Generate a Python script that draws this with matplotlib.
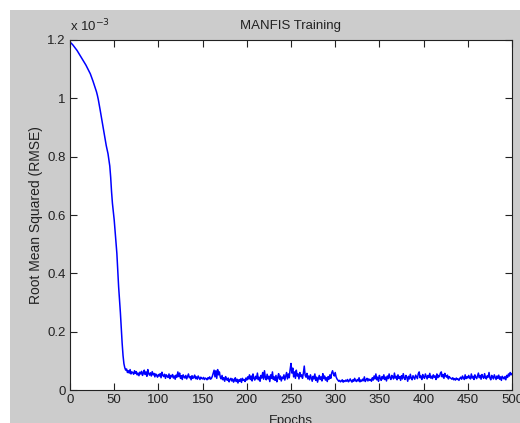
import numpy as np
import matplotlib
matplotlib.use("Agg")
import matplotlib.pyplot as plt
from matplotlib.patches import Rectangle
from matplotlib.ticker import FixedLocator

# RMSE per epoch, in units of 1e-6
rmse_decay = [
    1190, 1187, 1184, 1180, 1176, 1172, 1168, 1164, 1159, 1154,
    1149, 1144, 1139, 1134, 1129, 1124, 1119, 1114, 1108, 1102,
    1096, 1090, 1084, 1076, 1068, 1059, 1050, 1041, 1032, 1022,
    1010, 996, 980, 962, 944, 926, 908, 889, 872, 855,
    838, 824, 810, 790, 768, 730, 680, 640, 612, 583,
    545, 507, 469, 412, 354, 310, 265, 210, 160, 118,
    90, 76,
]
rmse_noise = [
    68, 72, 60, 66, 58, 70, 55, 62,
    60, 54, 66, 57, 63, 52, 58, 49, 61, 55,
    64, 50, 58, 68, 53, 62, 47, 70, 56, 51,
    59, 48, 63, 52, 57, 45, 55, 50, 44, 53,
    48, 56, 42, 61, 50, 46, 54, 40, 52, 47,
    43, 55, 39, 50, 45, 53, 41, 48, 37, 51,
    44, 62, 46, 58, 40, 49, 36, 52, 45, 41,
    50, 38, 47, 55, 42, 46, 35, 49, 40, 44,
    51, 39, 45, 37, 48, 42, 36, 44, 40, 38,
    43, 36, 41, 39, 35, 42, 38, 45, 37, 40,
    47, 58, 68, 45, 66, 40, 70, 52, 62, 44,
    38, 50, 35, 42, 30, 46, 37, 33, 41, 28,
    36, 40, 31, 38, 27, 34, 42, 29, 37, 24,
    35, 30, 38, 26, 40, 33, 36, 29, 41, 34,
    45, 38, 52, 36, 48, 31, 55, 40, 34, 47,
    39, 58, 35, 44, 30, 50, 41, 60, 37, 66,
    42, 35, 54, 38, 47, 29, 52, 40, 62, 36,
    45, 33, 50, 28, 43, 56, 37, 48, 31, 44,
    39, 52, 34, 47, 60, 38, 55, 42, 70, 91,
    58, 75, 45, 62, 40, 68, 48, 55, 38, 60,
    46, 52, 40, 58, 82, 50, 44, 57, 38, 48,
    35, 52, 41, 30, 47, 38, 55, 33, 44, 27,
    40, 50, 36, 45, 31, 56, 39, 48, 34, 42,
    29, 46, 37, 52, 40, 58, 66, 55, 48, 60,
    45, 38, 34, 30, 33, 28, 31, 35, 27, 32,
    29, 34, 30, 36, 28, 32, 38, 31, 27, 35,
    30, 40, 33, 29, 36, 31, 42, 28, 34, 30,
    37, 32, 45, 29, 35, 40, 31, 38, 33, 36,
    30, 42, 34, 48, 38, 55, 35, 44, 30, 50,
    40, 33, 46, 38, 52, 36, 44, 31, 48, 39,
    55, 42, 36, 50, 45, 38, 58, 41, 47, 35,
    52, 40, 46, 33, 49, 38, 56, 42, 36, 50,
    44, 30, 47, 38, 54, 41, 35, 49, 43, 37,
    51, 45, 39, 56, 62, 42, 48, 36, 53, 44,
    40, 55, 46, 38, 50, 43, 57, 41, 47, 39,
    52, 44, 48, 36, 55, 42, 50, 46, 58, 62,
    45, 53, 40, 57, 48, 44, 51, 38, 46, 42,
    40, 37, 42, 35, 39, 34, 41, 36, 38, 33,
    40, 44, 37, 48, 42, 36, 52, 39, 45, 41,
    50, 43, 38, 55, 41, 47, 36, 52, 44, 39,
    48, 58, 42, 50, 37, 53, 45, 40, 56, 43,
    38, 49, 44, 60, 41, 35, 50, 46, 38, 52,
    44, 36, 48, 40, 51, 37, 45, 33, 47, 42,
    38, 46, 35, 50, 43, 55, 48, 60, 52, 56,
]
rmse = np.array(rmse_decay + rmse_noise) * 1e-6
epochs = np.arange(1, len(rmse) + 1)

x_ticks = [0, 50, 100, 150, 200, 250, 300, 350, 400, 450, 500]
y_ticks = [0, 0.2e-3, 0.4e-3, 0.6e-3, 0.8e-3, 1.0e-3, 1.2e-3]
y_tick_labels = ["0", "0.2", "0.4", "0.6", "0.8", "1", "1.2"]

plt.rcParams['font.family'] = ['Liberation Sans', 'DejaVu Sans']
W, H = 520, 423
fig = plt.figure(figsize=(W / 100, H / 100), dpi=100, facecolor='white')
fig.patches.append(Rectangle((10 / W, 0), 1, (H - 10) / H, transform=fig.transFigure,
                             facecolor='#cccccc', edgecolor='none', zorder=-10))

ax = fig.add_axes([70 / W, (H - 390) / H, 442 / W, 350 / H])
ax.plot(epochs, rmse, color='#0000ff', lw=1.1)
ax.set_xlim(0, 500)
ax.set_ylim(0, 1.2e-3)
ax.xaxis.set_major_locator(FixedLocator(x_ticks))
ax.yaxis.set_major_locator(FixedLocator(y_ticks))
ax.set_yticklabels(y_tick_labels)
ax.tick_params(direction='in', top=True, right=True, length=5, width=0.8,
               labelsize=9.5, colors='#222222', pad=3)
for s in ax.spines.values():
    s.set_linewidth(0.8)
    s.set_color('#222222')
ax.set_title('MANFIS Training', fontsize=9.5, pad=8, color='#222222')
ax.set_xlabel('Epochs', fontsize=9.5, labelpad=6, color='#222222')
ax.set_ylabel('Root Mean Squared (RMSE)', fontsize=10, labelpad=3, color='#222222')
ax.text(0.0, 1.015, r'x 10$^{-3}$', transform=ax.transAxes, fontsize=9.5,
        ha='left', va='bottom', color='#222222')

fig.savefig('out.png', dpi=100, facecolor=fig.get_facecolor())
